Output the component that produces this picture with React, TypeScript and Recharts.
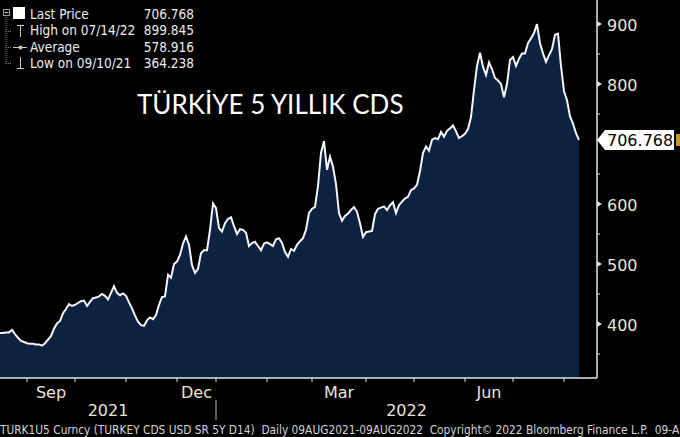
import { AreaChart, Area, XAxis, YAxis } from "recharts";

// TURK1U5 – Turkey 5Y CDS (approx. every 3px)
const aug21 = [385, 385, 386, 386, 390, 383, 377, 372, 370];
const sep21 = [368, 367, 367, 366, 366, 364, 368, 374, 380, 392, 401, 405, 418, 425, 433, 430];
const oct21 = [432, 435, 438, 439, 430, 437, 443, 444, 446, 450, 447, 441, 452, 463, 452, 448, 451];
const nov21 = [447, 436, 426, 414, 404, 398, 397, 406, 411, 408, 415, 432, 445, 446, 482, 477, 500];
const dec21 = [504, 515, 534, 546, 532, 498, 485, 492, 518, 523, 523, 557, 601];
const jan22 = [593, 560, 554, 568, 575, 578, 563, 550, 558, 557, 552, 530, 535, 537, 530, 523, 534];
const feb22 = [536, 533, 530, 541, 543, 535, 520, 512, 525, 522, 532, 538, 543, 557, 585];
const mar22 = [592, 595, 630, 685, 705, 657, 679, 662, 633, 585, 572, 580, 584, 590, 595, 587, 568, 545];
const apr22 = [553, 554, 555, 583, 592, 594, 596, 590, 598, 603, 585, 598, 604, 609, 612, 623];
const may22 = [626, 632, 655, 685, 696, 689, 707, 710, 708, 720, 712, 722, 726, 731, 721, 710, 713];
const jun22 = [717, 725, 745, 790, 830, 852, 829, 815, 836, 825, 810, 806, 800, 778, 800, 840];
const jul22 = [845, 830, 842, 851, 851, 868, 876, 885, 899.845, 868, 851, 837, 848, 858, 882, 884, 830];
const aug22 = [788, 773, 746, 734, 718, 706.768];

const monthSeries = [aug21, sep21, oct21, nov21, dec21, jan22, feb22, mar22, apr22, may22, jun22, jul22, aug22];
const monthNames = ["Aug", "Sep", "Oct", "Nov", "Dec", "Jan", "Feb", "Mar", "Apr", "May", "Jun", "Jul", "Aug"];
const shownMonths = ["Sep", "Dec", "Mar", "Jun"];
const years = ["2021", "2022"];
const yTicks = [350, 400, 450, 500, 550, 600, 650, 750, 800, 850, 900];

const legendRows = [
  { label: "Last Price", value: "706.768" },
  { label: "High on 07/14/22", value: "899.845" },
  { label: "Average", value: "578.916" },
  { label: "Low on 09/10/21", value: "364.238" },
];
const lastPrice = 706.768;
const title = "TÜRKİYE 5 YILLIK CDS";
const footer =
  "TURK1U5 Curncy (TURKEY CDS USD SR 5Y D14)  Daily 09AUG2021-09AUG2022  Copyright\u00a9 2022 Bloomberg Finance L.P.  09-Aug-2022 13:05:12";

// build table + tick positions
const data: { i: number; v: number }[] = [];
const monthStarts: number[] = [];
monthSeries.forEach((arr) => {
  monthStarts.push(data.length);
  arr.forEach((v) => data.push({ i: data.length, v }));
});
const X_MAX = 199;
const boundaries = monthStarts.slice(1);
const labelTicks: Record<string, string> = {};
monthNames.forEach((m, k) => {
  if (shownMonths.includes(m) && k < monthNames.length - 1) {
    labelTicks[String((monthStarts[k] + monthStarts[k + 1]) / 2)] = m;
  }
});
const janIdx = monthStarts[monthNames.indexOf("Jan")];
const yearTicks: Record<string, string> = {
  [String(janIdx / 2)]: years[0],
  [String((janIdx + X_MAX) / 2)]: years[1],
};
const xTicks = [...boundaries, ...Object.keys(labelTicks).map(Number), ...Object.keys(yearTicks).map(Number)].sort(
  (a, b) => a - b
);

const AXIS = "#e4e4e4";
const TXT = "#e8e4d8";
const FONT = "'DejaVu Sans', sans-serif";
const NARROW = "'DejaVu Sans Condensed', 'DejaVu Sans', sans-serif";

function XTick(props: any) {
  const { x, y, payload } = props;
  const val = payload.value;
  const key = String(val);
  if (labelTicks[key]) {
    return (
      <text x={x} y={y + 14} textAnchor="middle" dominantBaseline="central" fill={TXT} fontSize={16} fontFamily={FONT}>
        {labelTicks[key]}
      </text>
    );
  }
  if (yearTicks[key]) {
    return (
      <text x={x} y={y + 32} textAnchor="middle" dominantBaseline="central" fill={TXT} fontSize={16} fontFamily={FONT}>
        {yearTicks[key]}
      </text>
    );
  }
  return (
    <g>
      <line x1={x} x2={x} y1={y} y2={y + 4} stroke={AXIS} strokeWidth={1} />
      {val === janIdx && <line x1={x} x2={x} y1={y + 22} y2={y + 42} stroke="#bbbbbb" strokeWidth={1} />}
    </g>
  );
}

function YTick(props: any) {
  const { x, y, payload } = props;
  const val = payload.value;
  if (val === lastPrice) {
    return (
      <g>
        <polygon points={`${x},${y} ${x + 8},${y - 10} ${x + 77},${y - 10} ${x + 77},${y + 10} ${x + 8},${y + 10}`} fill="#ffffff" />
        <text x={x + 10} y={y + 1} dominantBaseline="central" fill="#000" fontSize={16} fontFamily={FONT}>
          706.768
        </text>
        <rect x={x + 79} y={y - 6} width={4} height={12} fill="#c9961a" />
      </g>
    );
  }
  if (val % 100 === 0) {
    return (
      <g>
        <polygon points={`${x},${y - 3} ${x + 5},${y} ${x},${y + 3}`} fill={AXIS} />
        <text x={x + 10} y={y + 1} dominantBaseline="central" fill={TXT} fontSize={16} fontFamily={FONT}>
          {val}
        </text>
      </g>
    );
  }
  return <line x1={x} x2={x + 3} y1={y} y2={y} stroke={AXIS} strokeWidth={1} />;
}

function LegendIcons() {
  return (
    <svg width={30} height={72} style={{ position: "absolute", left: 0, top: 0 }}>
      <line x1={6} x2={6} y1={17} y2={64} stroke="#888" strokeDasharray="1 1" />
      <rect x={3.5} y={9.5} width={6} height={6} fill="#000" stroke="#999" />
      <line x1={4.5} x2={8.5} y1={12.5} y2={12.5} stroke="#ccc" />
      <rect x={13} y={7} width={12} height={12} fill="#fff" />
      <line x1={6} x2={12} y1={31.5} y2={31.5} stroke="#888" strokeDasharray="1 1" />
      <line x1={20.5} x2={20.5} y1={25} y2={37} stroke="#ccc" />
      <line x1={17} x2={24} y1={25.5} y2={25.5} stroke="#ccc" />
      <line x1={6} x2={12} y1={47.5} y2={47.5} stroke="#888" strokeDasharray="1 1" />
      <line x1={13} x2={27} y1={47.5} y2={47.5} stroke="#ccc" />
      <circle cx={20.5} cy={47.5} r={2} fill="#ccc" />
      <line x1={6} x2={12} y1={63.5} y2={63.5} stroke="#888" strokeDasharray="1 1" />
      <line x1={20.5} x2={20.5} y1={57} y2={69} stroke="#ccc" />
      <line x1={17} x2={24} y1={68.5} y2={68.5} stroke="#ccc" />
    </svg>
  );
}

export default function App() {
  return (
    <div style={{ position: "fixed", left: 0, top: 0, width: 680, height: 437, background: "#000", overflow: "hidden" }}>
      <AreaChart width={680} height={437} data={data} margin={{ top: 0, right: 0, bottom: 0, left: 0 }}>
        <XAxis
          type="number"
          dataKey="i"
          domain={[0, X_MAX]}
          ticks={xTicks}
          interval={0}
          tick={(p: any) => <XTick {...p} />}
          tickLine={false}
          tickSize={0}
          tickMargin={0}
          axisLine={{ stroke: AXIS, strokeWidth: 1.5 }}
          height={59}
        />
        <YAxis
          orientation="right"
          domain={[310, 940]}
          ticks={[...yTicks, lastPrice]}
          interval={0}
          tick={(p: any) => <YTick {...p} />}
          tickLine={false}
          tickSize={0}
          tickMargin={0}
          axisLine={{ stroke: AXIS, strokeWidth: 1.5 }}
          width={83}
        />
        <Area
          type="linear"
          dataKey="v"
          stroke="#f4f6fb"
          strokeWidth={2}
          fill="#0c2240"
          fillOpacity={1}
          dot={false}
          activeDot={false}
          isAnimationActive={false}
        />
      </AreaChart>

      <div style={{ position: "absolute", left: 0, top: 0, width: 200, height: 72, fontFamily: NARROW, fontSize: 13.5, color: "#ececec" }}>
        <LegendIcons />
        {legendRows.map((r, k) => (
          <div key={k} style={{ position: "absolute", left: 30, top: 6 + k * 16.3, width: 164, display: "flex", justifyContent: "space-between", lineHeight: "16px", whiteSpace: "nowrap" }}>
            <span>{r.label}</span>
            <span>{r.value}</span>
          </div>
        ))}
      </div>

      <div style={{ position: "absolute", left: 137, top: 88, fontFamily: "Lato, sans-serif", fontSize: 26, color: "#fff", whiteSpace: "nowrap", lineHeight: "32px" }}>
        {title}
      </div>

      <div style={{ position: "absolute", left: 0, top: 423, width: 680, fontFamily: NARROW, fontSize: 11.8, color: "#d4d4d4", whiteSpace: "pre", overflow: "hidden", lineHeight: "14px" }}>
        {footer}
      </div>
    </div>
  );
}
